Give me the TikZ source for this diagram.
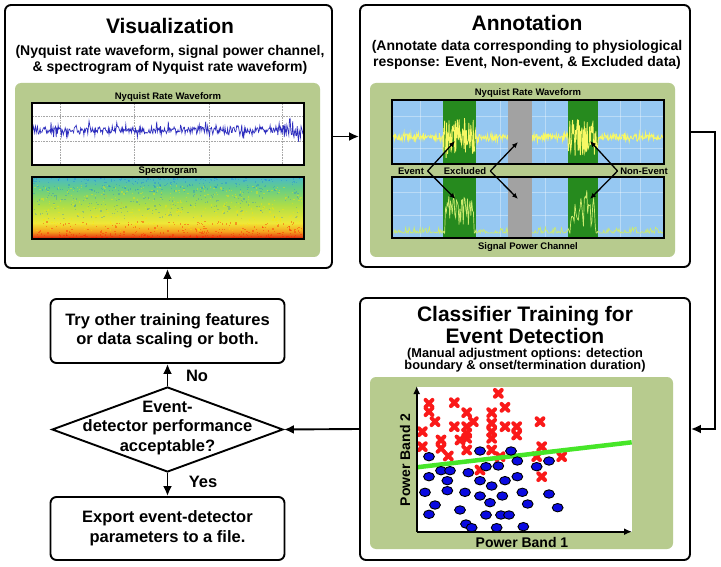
\documentclass[tikz,border=0pt]{standalone}
\usepackage{fontspec}
\setmainfont{Liberation Sans}
\usetikzlibrary{shapes.geometric,arrows.meta}
\definecolor{panelg}{RGB}{183,203,142}
\definecolor{pblue}{RGB}{150,200,242}
\definecolor{bandg}{RGB}{38,138,30}
\definecolor{exg}{RGB}{162,162,162}
\definecolor{sigy}{RGB}{248,248,100}
\definecolor{powy}{RGB}{205,235,110}
\definecolor{wblue}{RGB}{45,45,190}
\definecolor{specdred}{RGB}{175,25,10}
\definecolor{specred}{RGB}{230,70,20}
\definecolor{specor}{RGB}{245,160,30}
\definecolor{specye}{RGB}{240,232,55}
\definecolor{specyg}{RGB}{175,222,70}
\definecolor{specgr}{RGB}{100,205,135}
\definecolor{speccy}{RGB}{75,185,200}
\definecolor{xred}{RGB}{250,25,25}
\definecolor{dblue}{RGB}{10,10,225}
\definecolor{lgreen}{RGB}{70,230,40}
\pgfdeclareverticalshading{specshade}{100bp}{color(0bp)=(specdred); color(25bp)=(specdred); color(27bp)=(specred); color(31bp)=(specor); color(38bp)=(specye); color(52bp)=(specyg); color(66bp)=(specgr); color(75bp)=(speccy); color(100bp)=(speccy)}
\begin{document}
\begin{tikzpicture}[x=1pt,y=-1pt,
  box/.style={draw, line width=1.9pt, rounded corners=6pt, fill=white, inner sep=0pt},
  panel/.style={fill=panelg, rounded corners=6pt, inner sep=0pt},
  frame/.style={draw, line width=1.3pt, inner sep=0pt},
  arr/.style={-{Latex[length=10pt,width=9pt]}, line width=1.9pt},
  sarr/.style={-{Latex[length=6pt,width=5pt]}, line width=1.3pt},
  ttl/.style={font=\fontsize{21}{22}\selectfont\bfseries, inner sep=0pt},
  sub/.style={font=\fontsize{14}{16}\selectfont\bfseries, align=center, inner sep=0pt},
  lab/.style={font=\fontsize{9.5}{10}\selectfont\bfseries, inner sep=0pt},
  ftxt/.style={font=\fontsize{16.5}{19.5}\selectfont\bfseries, align=center, inner sep=0pt},
  axlab/.style={font=\fontsize{14}{14}\selectfont\bfseries, inner sep=0pt},
  grd/.style={gray!70, densely dotted, line width=0.6pt},
  fgrd/.style={white, opacity=0.35, line width=0.5pt},
]
\useasboundingbox (0,0) rectangle (721,567);
\fill[white] (0,0) rectangle (721,567);
\pgfmathsetseed{12345}

% ---------- main boxes ----------
\node[box, minimum width=327pt, minimum height=263pt] (vis) at (168.5,136.5) {};
\node[box, minimum width=330pt, minimum height=262pt] (ann) at (525,136) {};
\node[box, minimum width=330pt, minimum height=262pt] (cls) at (525,429) {};
\node[box, minimum width=234pt, minimum height=64pt] (try) at (167.5,331) {};
\node[box, minimum width=234pt, minimum height=63pt] (exp) at (167.5,528.5) {};
\node[diamond, draw, line width=1.9pt, fill=white, inner sep=0pt, minimum width=231pt, minimum height=85pt] (dec) at (167.5,429.5) {};

% ---------- titles ----------
\node[ttl] (vist) at (170,26) {Visualization};
\node[sub] (viss) at (170,60) {(Nyquist rate waveform, signal power channel,\\ \& spectrogram of Nyquist rate waveform)};
\node[ttl] (annt) at (527,23) {Annotation};
\node[sub] (anns) at (527,55) {(Annotate data corresponding to physiological\\ response: Event, Non-event, \& Excluded data)};
\node[ttl, align=center] (clst) at (525,325) {Classifier Training for\\ Event Detection};
\node[font=\fontsize{12.8}{12.5}\selectfont\bfseries, align=center, inner sep=0pt] (clss) at (525,360) {(Manual adjustment options: detection\\ boundary \& onset/termination duration)};

% ---------- panels ----------
\node[panel, minimum width=305pt, minimum height=174pt] (visp) at (167.5,170) {};
\node[panel, minimum width=305pt, minimum height=174pt] (annp) at (522.5,170) {};
\node[panel, minimum width=303pt, minimum height=172pt] (clsp) at (521.5,463) {};

% ---------- visualization: waveform ----------
\fill[white] (32,103) rectangle (304,165);
\foreach \gx in {60,134,209,282} \draw[grd] (\gx,104) -- (\gx,164);
\foreach \gy in {116,141} \draw[grd] (33,\gy) -- (303,\gy);
\draw[wblue, line width=0.7pt] plot[domain=33:303, samples=420, variable=\t] (\t, {130 + (1+1.4*(\t>283))*(3*rand + 11*rand*rand*rand)});
\node[frame, minimum width=272pt, minimum height=62pt] (wave) at (168,134) {};
\node[lab] (wavel) at (168,97) {Nyquist Rate Waveform};

% ---------- visualization: spectrogram ----------
\shade[shading=specshade] (32,177) rectangle (304,239);
\foreach \i in {1,...,450}{
  \pgfmathsetmacro\px{33+268*rnd}
  \pgfmathsetmacro\py{178+40*rnd^1.6}
  \fill[blue!60!cyan, opacity=0.25] (\px,\py) rectangle ++(1.3,1.3);
}
\foreach \i in {1,...,350}{
  \pgfmathsetmacro\px{33+268*rnd}
  \pgfmathsetmacro\py{185+45*rnd}
  \fill[yellow!90!orange, opacity=0.4] (\px,\py) rectangle ++(1.3,1.3);
}
\foreach \i in {1,...,300}{
  \pgfmathsetmacro\px{33+268*rnd}
  \pgfmathsetmacro\py{237-16*rnd^2}
  \fill[red!80!orange, opacity=0.4] (\px,\py) rectangle ++(1.3,1.3);
}
\node[frame, minimum width=272pt, minimum height=62pt] (spec) at (168,208) {};
\node[lab] (specl) at (168,171) {Spectrogram};

% ---------- annotation: top plot ----------
\fill[pblue] (392,100) rectangle (664,164);
\foreach \gx in {420,500,545,620,640} \draw[fgrd] (\gx,101) -- (\gx,163);
\foreach \gy in {116,148} \draw[fgrd] (393,\gy) -- (663,\gy);
\fill[bandg] (443,100) rectangle (476,164);
\fill[bandg] (568,100) rectangle (598,164);
\draw[sigy, line width=0.8pt] plot[domain=393:663, samples=560, variable=\t] (\t, {137 + (2.4 + 4*abs(rand)^4 + 15*((\t>443)*(\t<476)+(\t>568)*(\t<598)))*rand});
\fill[exg] (508,100) rectangle (532,164);
\node[frame, minimum width=272pt, minimum height=64pt] (wav2) at (528,132) {};
\node[lab] (wav2l) at (528,93) {Nyquist Rate Waveform};

% ---------- annotation: bottom plot ----------
\fill[pblue] (392,177) rectangle (664,238);
\foreach \gx in {420,500,545,620,640} \draw[fgrd] (\gx,178) -- (\gx,237);
\foreach \gy in {192,215} \draw[fgrd] (393,\gy) -- (663,\gy);
\fill[bandg] (443,177) rectangle (476,238);
\fill[bandg] (568,177) rectangle (598,238);
\draw[powy, line width=0.7pt] plot[domain=393:663, samples=320, variable=\t] (\t, {233 - 6*abs(rand)^4 - ((\t>445)*(\t<474)+(\t>570)*(\t<596))*(6+34*abs(rand))});
\fill[exg] (508,177) rectangle (532,238);
\node[frame, minimum width=272pt, minimum height=61pt] (pow) at (528,207.5) {};
\node[lab] (powl) at (528,247) {Signal Power Channel};

% ---------- annotation labels and arrows ----------
\node[lab] (evt) at (411,171) {Event};
\node[lab] (exc) at (465,171) {Excluded};
\node[lab] (nev) at (644,171) {Non-Event};
\coordinate (e1) at (455,141);
\coordinate (e2) at (455.5,199);
\coordinate (x1) at (518,142);
\coordinate (x2) at (518,199);
\coordinate (n1) at (590,141);
\coordinate (n2) at (590,199);
\draw[sarr] ([xshift=3.5pt]evt.east) -- (e1);
\draw[sarr] ([xshift=3.5pt]evt.east) -- (e2);
\draw[sarr] ([xshift=4pt]exc.east) -- (x1);
\draw[sarr] ([xshift=4pt]exc.east) -- (x2);
\draw[sarr] ([xshift=-2.5pt]nev.west) -- (n1);
\draw[sarr] ([xshift=-2.5pt]nev.west) -- (n2);

% ---------- classifier scatter plot ----------
\fill[white] (416.7,387) rectangle (632,531.7);
\foreach \a/\b in {72/70,72/95,148/68,185/98,90/125,205/125,260/98,300/82,280/40,52/155,148/140,185/140,185/160,260/130,260/155,300/140,335/140,335/165,260/175,52/200,108/180,108/205,165/180,185/210,130/228,260/210,285/230,405/125,410/200,395/230,470/230,410/290,225/270,185/175}{
  \draw[xred, line width=4pt, line cap=round] ({405+\a/3-3.4},{380+\b/3-3.4}) -- ++(6.8,6.8) ({405+\a/3-3.4},{380+\b/3+3.4}) -- ++(6.8,-6.8);
}
\draw[lgreen, line width=4.5pt] (416.7,467.3) -- (631.7,442.3);
\foreach \a/\b in {72/230,225/213,318/213,108/272,135/272,243/260,280/258,337/243,395/260,432/243,72/290,127/302,190/278,225/302,300/302,337/290,60/337,127/332,180/337,260/318,225/348,292/348,352/337,432/342,90/375,165/390,255/368,368/372,458/383,72/403,243/405,288/405,312/405,183/432,200/443,275/443,355/440}{
  \filldraw[fill=dblue, draw=black, line width=0.9pt] ({405+\a/3},{380+\b/3}) ellipse [x radius=5.4pt, y radius=4.2pt];
}
\coordinate (orig) at (416.7,531.7);
\coordinate (xend) at (632,531.7);
\coordinate (yend) at (416.7,386);
\draw[line width=1.6pt, -{Latex[length=8pt,width=7pt]}] (orig) -- (xend);
\draw[line width=1.6pt, -{Latex[length=8pt,width=7pt]}] (orig) -- (yend);
\node[axlab] (pb1) at (522,542) {Power Band 1};
\node[axlab, rotate=90] (pb2) at (405,460) {Power Band 2};

% ---------- flow texts ----------
\node[ftxt] (tryt) at (167.5,331) {Try other training features\\ or data scaling or both.};
\node[ftxt] (dect) at (167.5,428) {Event-\\ detector performance\\ acceptable?};
\node[ftxt] (expt) at (167.5,528) {Export event-detector\\ parameters to a file.};
\node[ftxt] (no) at (197,376) {No};
\node[ftxt] (yes) at (203,482) {Yes};

% ---------- connectors ----------
\draw[arr] (vis.east) -- (vis.east -| ann.west);
\draw[arr] ([yshift=4pt]ann.east) -- ++(24,0) |- (cls.east);
\draw[arr] (cls.west) -- (dec.east);
\draw[arr] (dec.north) -- (try.south);
\draw[arr] (try.north) -- (try.north |- vis.south);
\draw[arr] (dec.south) -- (exp.north);
\end{tikzpicture}
\end{document}
